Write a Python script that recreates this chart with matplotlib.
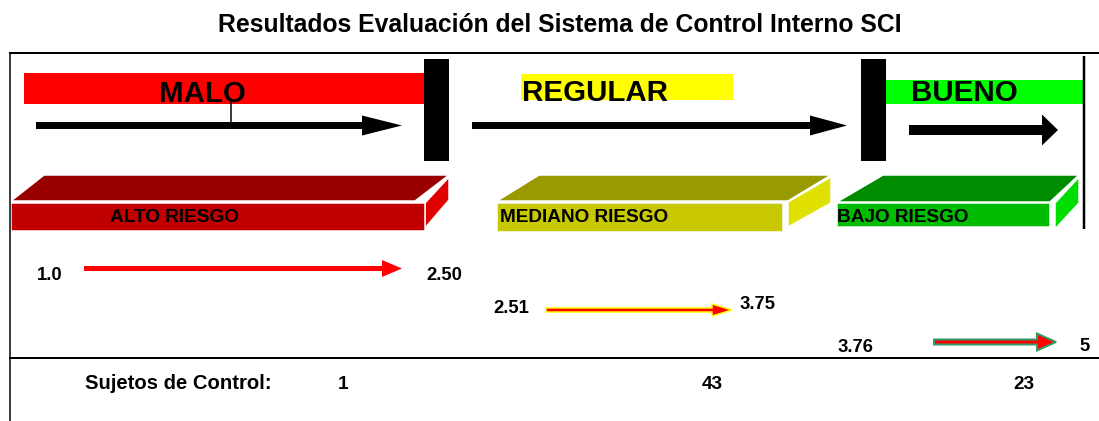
import matplotlib
matplotlib.use("Agg")
import matplotlib.pyplot as plt
from matplotlib.patches import Rectangle, Polygon, FancyArrow

plt.rcParams['font.family'] = ['Liberation Sans', 'DejaVu Sans']

# ---------------- data ----------------
title = "Resultados Evaluación del Sistema de Control Interno SCI"
levels = ["MALO", "REGULAR", "BUENO"]
level_colors = ["#FF0000", "#FFFF00", "#00FF00"]
risk_labels = ["ALTO RIESGO", "MEDIANO RIESGO", "BAJO RIESGO"]
range_low = ["1.0", "2.51", "3.76"]
range_high = ["2.50", "3.75", "5"]
subjects_label = "Sujetos de Control:"
subjects = [1, 43, 23]

# ---------------- layout (pixel space) ----------------
W, H = 1099, 421
fig = plt.figure(figsize=(W / 100, H / 100), dpi=100)
ax = fig.add_axes([0, 0, 1, 1])
ax.set_xlim(0, W)
ax.set_ylim(H, 0)
ax.axis("off")

PX = 72 / 100.0  # points per pixel

def pt(px):
    return px * PX

# title
ax.text(560, 32, title, ha="center", va="baseline", fontsize=pt(24.8),
        fontweight="bold", color="#000000")

# frame lines
ax.plot([9, W], [53, 53], color="#000000", lw=pt(2), solid_capstyle="butt")
ax.plot([9.5, 9.5], [53, H], color="#000000", lw=pt(1.5), solid_capstyle="butt")
ax.plot([9, W], [358, 358], color="#000000", lw=pt(2), solid_capstyle="butt")
ax.plot([1084, 1084], [56, 229], color="#000000", lw=pt(2.5), solid_capstyle="butt")

# level colour bars  (x0, x1, y0, y1)
level_bars = [(24, 424, 73, 104), (521, 733, 74, 100), (886, 1084, 80, 104)]
level_text = [(202, 102, "center"), (522, 101, "left"), (911, 101, "left")]
for (x0, x1, y0, y1), col, lab, (tx, ty, ha) in zip(level_bars, level_colors, levels, level_text):
    ax.add_patch(Rectangle((x0, y0), x1 - x0, y1 - y0, facecolor=col, edgecolor="none"))
    ax.text(tx, ty, lab, ha=ha, va="baseline", fontsize=pt(29.5),
            fontweight="bold", color="#000000")

# connector under MALO
ax.plot([231, 231], [102, 122], color="#000000", lw=pt(1.5))

# black separators
for x0 in (424, 861):
    ax.add_patch(Rectangle((x0, 59), 25, 102, facecolor="#000000", edgecolor="none"))

# black arrows (x_start, x_tip, y, shaft width, head width, head length)
black_arrows = [(36, 402, 125.5, 7, 20, 40), (472, 847, 125.5, 7, 20, 37),
                (909, 1058, 130, 10, 31, 16)]
for xs, xt, y, w, hw, hl in black_arrows:
    ax.add_patch(FancyArrow(xs, y, xt - xs, 0, width=w, head_width=hw, head_length=hl,
                            length_includes_head=True, facecolor="#000000",
                            edgecolor="none"))

# 3-D risk blocks
blocks = [
    dict(front=(11, 425, 203, 231),
         top=[(11, 201), (415, 201), (449, 175), (44, 175)],
         side=[(425, 203), (449, 177), (449, 200), (425, 228)],
         colors=("#C00000", "#990000", "#E00000"), text=(110, 222)),
    dict(front=(497, 783, 203, 232),
         top=[(497, 201), (788, 201), (831, 175), (539, 175)],
         side=[(788, 202), (831, 177), (831, 203), (788, 227)],
         colors=("#C8C800", "#999900", "#E0E000"), text=(500, 222)),
    dict(front=(837, 1050, 203, 227),
         top=[(837, 202), (1050, 202), (1079, 175), (883, 175)],
         side=[(1055, 203), (1079, 177), (1079, 203), (1055, 229)],
         colors=("#00BB00", "#008C00", "#00DD00"), text=(837, 222)),
]
for b, lab in zip(blocks, risk_labels):
    fc, tc, sc = b["colors"]
    ax.add_patch(Polygon(b["top"], closed=True, facecolor=tc, edgecolor="white", lw=pt(1.5)))
    ax.add_patch(Polygon(b["side"], closed=True, facecolor=sc, edgecolor="white", lw=pt(1.5)))
    x0, x1, y0, y1 = b["front"]
    ax.add_patch(Rectangle((x0, y0), x1 - x0, y1 - y0, facecolor=fc, edgecolor="white", lw=pt(1.5)))
    ax.text(b["text"][0], b["text"][1], lab, ha="left", va="baseline",
            fontsize=pt(19), fontweight="bold", color="#000000")

# range arrows (x_start, x_tip, y, width, head_width, head_length, face, edge, lw)
range_arrows = [
    (84, 402, 268.5, 5, 17, 20, "#FF0000", "none", 0),
    (546, 732, 310, 4, 12, 20, "#FF0000", "#FFFF00", 1.5),
    (934, 1056, 342, 5, 17, 19, "#FF0000", "#339966", 2),
]
for xs, xt, y, w, hw, hl, fc, ec, lw in range_arrows:
    ax.add_patch(FancyArrow(xs, y, xt - xs, 0, width=w, head_width=hw, head_length=hl,
                            length_includes_head=True, facecolor=fc, edgecolor=ec,
                            lw=pt(lw)))

# range labels
low_pos = [(50, 280), (511, 313), (855, 352)]
high_pos = [(444, 280), (758, 309), (1085, 351)]
for lab, (x, y) in zip(range_low, low_pos):
    ax.text(x, y, lab, ha="center", va="baseline", fontsize=pt(18.5),
            fontweight="bold", color="#000000")
for lab, (x, y) in zip(range_high, high_pos):
    ax.text(x, y, lab, ha="center", va="baseline", fontsize=pt(18.5),
            fontweight="bold", color="#000000")

# subjects row
ax.text(178, 389, subjects_label, ha="center", va="baseline", fontsize=pt(20.3),
        fontweight="bold", color="#000000")
for n, x in zip(subjects, [343, 712, 1024]):
    ax.text(x, 389, str(n), ha="center", va="baseline", fontsize=pt(19),
            fontweight="bold", color="#000000")

fig.savefig("out.png", dpi=100)
